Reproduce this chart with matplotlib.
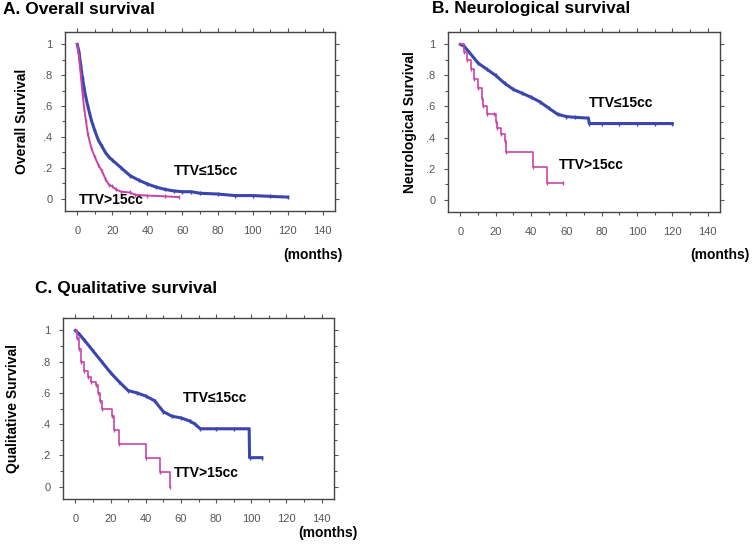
import matplotlib
matplotlib.use("Agg")
import matplotlib.pyplot as plt
from matplotlib.ticker import MultipleLocator, FixedLocator

plt.rcParams['font.family'] = ['Liberation Sans', 'DejaVu Sans']

# A. Overall survival
os_small_t = [0, 1, 2, 3, 4, 5, 6, 8, 10, 12, 14, 16, 18, 20, 25, 30, 35, 40, 45, 50,
              55, 60, 65, 70, 80, 90, 100, 110, 120]
os_small_s = [1.0, 0.95, 0.86, 0.78, 0.71, 0.65, 0.6, 0.51, 0.44, 0.38, 0.34, 0.3, 0.27,
              0.25, 0.2, 0.15, 0.12, 0.095, 0.075, 0.06, 0.05, 0.045, 0.045, 0.035, 0.03,
              0.02, 0.02, 0.015, 0.01]
os_large_t = [0, 1, 2, 3, 4, 5, 6, 8, 10, 12, 14, 16, 18, 20, 22, 25, 30, 33, 40, 50, 58]
os_large_s = [1.0, 0.92, 0.8, 0.68, 0.58, 0.5, 0.42, 0.33, 0.27, 0.22, 0.18, 0.13, 0.09,
              0.08, 0.06, 0.045, 0.04, 0.025, 0.02, 0.015, 0.01]

# B. Neurological survival
ns_small_t = [0, 2, 5, 10, 15, 20, 25, 30, 35, 40, 45, 50, 55, 60, 65, 72.5, 73, 80, 90,
              100, 110, 120]
ns_small_s = [1.0, 0.99, 0.95, 0.88, 0.84, 0.8, 0.75, 0.71, 0.685, 0.66, 0.63, 0.59, 0.55,
              0.535, 0.53, 0.525, 0.49, 0.49, 0.49, 0.49, 0.49, 0.49]
ns_large_t = [0, 2, 4, 6, 8, 10, 12, 13, 15, 19, 20, 21, 23, 25, 26, 41, 49, 58]
ns_large_s = [1.0, 0.95, 0.9, 0.84, 0.78, 0.72, 0.65, 0.6, 0.55, 0.55, 0.5, 0.46, 0.42,
              0.38, 0.305, 0.21, 0.105, 0.105]

# C. Qualitative survival
qs_small_t = [0, 2, 5, 10, 15, 20, 25, 30, 35, 40, 45, 50, 55, 60, 65, 68, 71, 80, 90,
              98.8, 99, 106]
qs_small_s = [1.0, 0.98, 0.94, 0.87, 0.8, 0.73, 0.67, 0.615, 0.6, 0.58, 0.55, 0.48, 0.45,
              0.44, 0.42, 0.4, 0.37, 0.37, 0.37, 0.37, 0.185, 0.185]
qs_large_t = [0, 1, 2, 3, 5, 7, 9, 12, 13, 14, 15, 21, 22, 25, 40, 48, 54]
qs_large_s = [1.0, 0.95, 0.88, 0.8, 0.74, 0.7, 0.67, 0.65, 0.6, 0.55, 0.5, 0.45, 0.36,
              0.27, 0.18, 0.09, 0.0]

xticks = [0, 20, 40, 60, 80, 100, 120, 140]
yticks = [0, 0.2, 0.4, 0.6, 0.8, 1.0]
ytick_labels = ['0', '.2', '.4', '.6', '.8', '1']

blue = '#3a45ae'
pink = '#c845a8'

fig = plt.figure(figsize=(7.53, 5.5), dpi=100)


def km_panel(rect, t1, s1, t2, s2, ylabel, lab1, lab2, pink_steps, ypad):
    ax = fig.add_axes(rect)
    # large-sample group: dense small steps, drawn as a line
    ax.plot(t1, s1, color=blue, lw=2.2, solid_joinstyle='round')
    ax.plot(t1[1:], s1[1:], ls='none', marker='|', ms=3.5, color=blue, mew=1)
    if pink_steps:
        ax.step(t2, s2, where='post', color=pink, lw=1.2)
    else:
        ax.plot(t2, s2, color=pink, lw=1.4)
    ax.plot(t2[1:], s2[1:], ls='none', marker='|', ms=3, color=pink, mew=1)
    ax.set_xlim(-7, 147)
    ax.set_ylim(-0.08, 1.08)
    ax.xaxis.set_major_locator(FixedLocator(xticks))
    ax.xaxis.set_minor_locator(MultipleLocator(10))
    ax.set_yticks(yticks)
    ax.set_yticklabels(ytick_labels)
    ax.yaxis.set_minor_locator(MultipleLocator(0.1))
    ax.tick_params(which='both', direction='out', top=True, right=True,
                   colors='#555555', labelsize=8, length=3, width=0.8)
    ax.tick_params(axis='y', pad=6)
    ax.tick_params(axis='x', pad=8)
    ax.tick_params(which='minor', length=2)
    for sp in ax.spines.values():
        sp.set_color('#444444')
        sp.set_linewidth(1.0)
    ax.set_ylabel(ylabel, fontsize=10, fontweight='bold', labelpad=ypad)
    ax.text(lab1[0], lab1[1], lab1[2], fontsize=10, fontweight='bold', va='center')
    ax.text(lab2[0], lab2[1], lab2[2], fontsize=10, fontweight='bold', va='center')
    return ax


W, H = 753.0, 550.0

km_panel([65 / W, 1 - 211 / H, 270 / W, 179 / H], os_small_t, os_small_s, os_large_t,
         os_large_s, 'Overall Survival', (55, 0.18, 'TTV≤15cc'), (1, -0.01, 'TTV>15cc'),
         False, 10)
km_panel([448 / W, 1 - 212 / H, 272 / W, 180 / H], ns_small_t, ns_small_s, ns_large_t,
         ns_large_s, 'Neurological Survival', (73, 0.62, 'TTV≤15cc'), (56, 0.226, 'TTV>15cc'),
         True, 7)
km_panel([63 / W, 1 - 499 / H, 271 / W, 181 / H], qs_small_t, qs_small_s, qs_large_t,
         qs_large_s, 'Qualitative Survival', (61, 0.57, 'TTV≤15cc'), (56, 0.085, 'TTV>15cc'),
         True, 15)

fig.text(3 / W, 1 - 9 / H, 'A. Overall survival', fontsize=12.5, fontweight='bold', va='center')
fig.text(432 / W, 1 - 9 / H, 'B. Neurological survival', fontsize=12.5, fontweight='bold', va='center')
fig.text(35 / W, 1 - 288 / H, 'C. Qualitative survival', fontsize=12.5, fontweight='bold', va='center')

fig.text(343 / W, 1 - 255 / H, '(months)', fontsize=10, fontweight='bold', va='center', ha='right')
fig.text(750 / W, 1 - 255 / H, '(months)', fontsize=10, fontweight='bold', va='center', ha='right')
fig.text(358 / W, 1 - 533 / H, '(months)', fontsize=10, fontweight='bold', va='center', ha='right')

fig.savefig('out.png', dpi=100)
